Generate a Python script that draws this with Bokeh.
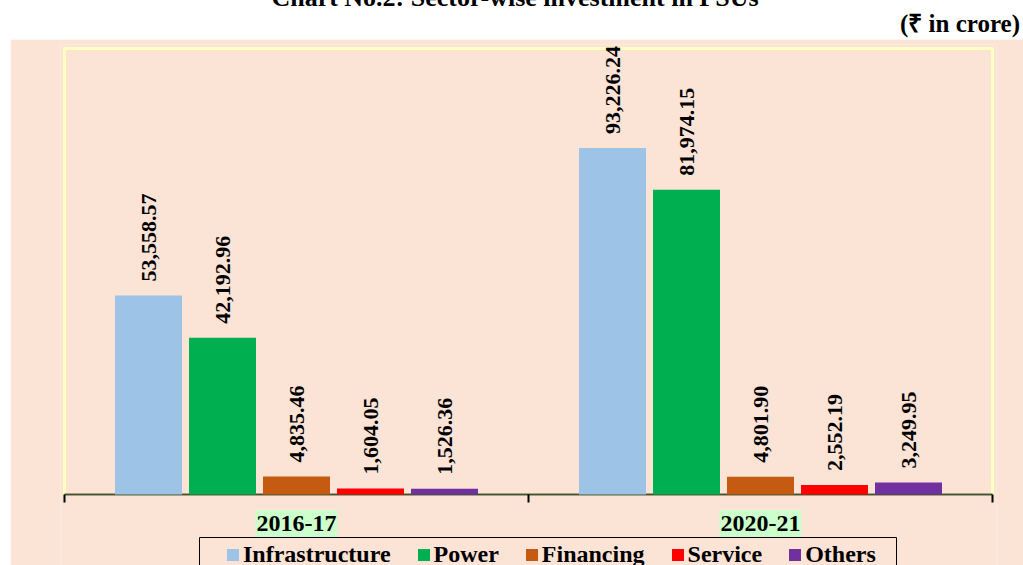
import math
from bokeh.plotting import figure
from bokeh.models import Range1d, Legend, LegendItem, Div, BoxAnnotation, Spacer
from bokeh.layouts import column, row
from bokeh.core.properties import value
from bokeh.embed import file_html
from bokeh.resources import INLINE

# ---- data ----
years = ["2016-17", "2020-21"]
sectors = ["Infrastructure", "Power", "Financing", "Service", "Others"]
infrastructure = [53558.57, 93226.24]
power = [42192.96, 81974.15]
financing = [4835.46, 4801.90]
service = [1604.05, 2552.19]
others = [1526.36, 3249.95]
series = [infrastructure, power, financing, service, others]
colors = ["#9DC3E6", "#00B050", "#C55A11", "#FF0000", "#7030A0"]
y_max = 120000

title_text = "Chart No.2: Sector-wise investment in PSUs"
unit_text = "(\u20b9 in crore)"

PEACH = "#FBE3D6"
FONT = "Liberation Serif"

# ---- header (title is cut off at the top of the page, as in the original) ----
header_html = (
    '<div style="position:relative;width:1023px;height:39px;">'
    f'<div style="position:absolute;left:0;top:-15px;width:1030px;text-align:center;white-space:nowrap;'
    f'font-family:\'{FONT}\';font-weight:bold;font-size:26px;line-height:26px;color:black;">{title_text}</div>'
    f'<div style="position:absolute;right:3px;top:11px;white-space:nowrap;'
    f'font-family:\'{FONT}\';font-weight:bold;font-size:25px;line-height:25px;color:black;">{unit_text}</div>'
    '</div>'
)
header = Div(text=header_html, width=1023, height=39, margin=0)

# ---- chart ----
# plot area: 928 px wide for the two categories, 446 px tall for 0..y_max,
# extended by a few pixels and downward so the category labels and legend sit inside it
PX_X = len(years) / 928
PX_Y = y_max / 446
p = figure(width=1013, height=526,
           x_range=Range1d(-4 * PX_X, len(years) + 4 * PX_X),
           y_range=Range1d(-71 * PX_Y, y_max + 4 * PX_Y),
           x_axis_location=None, y_axis_location=None,
           output_backend="svg", toolbar_location=None,
           min_border_left=50, min_border_right=27, min_border_top=5, min_border_bottom=0,
           background_fill_color=PEACH, border_fill_color=PEACH,
           outline_line_color=None)
p.grid.visible = False

# yellow plot-area border
p.add_layout(BoxAnnotation(left=0, right=len(years), bottom=0, top=y_max,
                           fill_alpha=0, line_color="#FFFFBE", line_alpha=1.0,
                           line_width=3, level="underlay"))

# category axis line and boundary ticks
bounds = list(range(len(years) + 1))
p.segment(x0=[0], y0=[0], x1=[len(years)], y1=[0], line_color="#4a4a40", line_width=2)
p.segment(x0=bounds, y0=[0] * len(bounds), x1=bounds, y1=[-8 * PX_Y] * len(bounds),
          line_color="black", line_width=2)

slot = 74 / 464
bar_w = 67 / 464
renderers = []
for i, (vals, col) in enumerate(zip(series, colors)):
    xs = [k + 0.5 + (i - 2) * slot for k in range(len(years))]
    r = p.vbar(x=xs, top=vals, width=bar_w, fill_color=col, line_color=None)
    renderers.append(r)
    p.text(x=xs, y=vals, text=[f"{v:,.2f}" for v in vals], angle=math.pi / 2,
           text_align="left", text_baseline="middle", y_offset=-14,
           text_font=value(FONT), text_font_style="bold", text_font_size="22px",
           text_color="black")

# category labels with light-green highlight
cat_x = [k + 0.5 for k in range(len(years))]
cat_y = [-29 * PX_Y] * len(years)
p.rect(x=cat_x, y=cat_y, width=82, height=27, width_units="screen", height_units="screen",
       fill_color="#CCFFCC", line_color=None)
p.text(x=cat_x, y=cat_y, text=years, text_align="center", text_baseline="middle",
       text_font=value(FONT), text_font_style="bold", text_font_size="24px",
       text_color="black")

# legend frame (wider than the items, as in the original)
p.rect(x=[483.5 * PX_X], y=[-63 * PX_Y], width=697, height=40,
       width_units="screen", height_units="screen",
       fill_color=None, line_color="black", line_width=1)

legend = Legend(items=[LegendItem(label=s, renderers=[r]) for s, r in zip(sectors, renderers)],
                orientation="horizontal", location=(162, -6),
                label_text_font=FONT, label_text_font_style="bold", label_text_font_size="24px",
                label_text_color="black",
                glyph_width=15, glyph_height=15, label_standoff=3, spacing=25, padding=3,
                margin=0, border_line_alpha=0, background_fill_alpha=0)
p.add_layout(legend)

layout = column(header, row(Spacer(width=10, height=526), p, spacing=0), spacing=0)
open("out.html", "w").write(file_html(layout, INLINE))
